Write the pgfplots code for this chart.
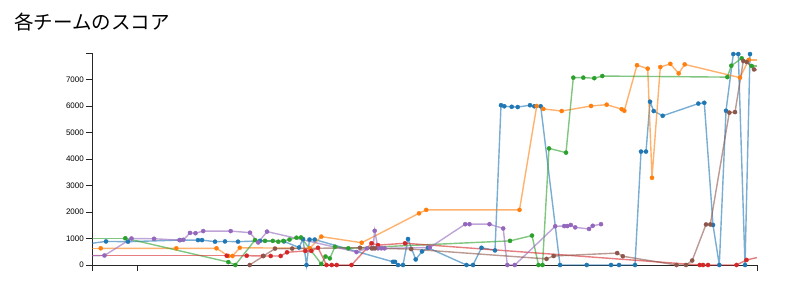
\documentclass[border=0pt]{standalone}
\usepackage{pgfplots}
\pgfplotsset{compat=1.18}
\usepackage{fontspec}
\setmainfont{Liberation Sans}
\newfontfamily\cjk{Noto Sans CJK JP}
\definecolor{cblue}{HTML}{1F77B4}
\definecolor{corange}{HTML}{FF7F0E}
\definecolor{cgreen}{HTML}{2CA02C}
\definecolor{cred}{HTML}{D62728}
\definecolor{cpurple}{HTML}{9467BD}
\definecolor{cbrown}{HTML}{8C564B}
\pgfplotsset{
  ser/.style={color=#1, line width=1.4pt, draw opacity=0.6, mark=*, mark size=2.1pt,
    mark options={solid, draw opacity=1, fill opacity=1, line width=0.3pt, fill=#1, draw=#1}},
  seg/.style={color=#1, line width=1.4pt, draw opacity=0.6, no marks},
}
\begin{document}
\begin{tikzpicture}
\path (0,0) rectangle (800pt,289pt);
\node[anchor=west, inner sep=0pt, font=\cjk\fontsize{19.5}{22}\selectfont] at (14pt,266.5pt) {各チームのスコア};
\begin{axis}[
  at={(92pt,24pt)}, anchor=south west,
  scale only axis, width=665pt, height=212pt,
  xmin=0, xmax=665, ymin=0, ymax=8000,
  clip=false,
  axis x line=bottom, axis y line=left,
  axis line style={-, black!85, line width=0.8pt},
  tick align=outside, major tick length=6pt,
  tick style={black!85, line width=0.8pt},
  xtick={0,45,665}, xticklabels={},
  ytick={0,1000,...,8000},
  yticklabels={0,1000,2000,3000,4000,5000,6000,7000,},
  /pgf/number format/assume math mode=true,
  yticklabel style={font=\fontsize{8}{9}\selectfont, inner sep=0pt, xshift=-2pt},
  scaled y ticks=false,
]
% blue
\addplot[seg=cblue] coordinates {(0,820)(14,890)};
\addplot[ser=cblue] coordinates {(14,890)(36,880)(88,940)(106,940)(110,940)(123,880)(133,890)(146,880)(168,910)(192,890)(207,660)(211,980)(214.5,0)(217.5,960)(222.7,960)(301,120)(303,120)(306,0)(311,0)(316,980)(323.7,210)(330,510)(336,650)(374.5,0)(381,0)(389.5,650)(403,550)(409,6030)(412.3,5990)(419.7,5970)(425.7,5960)(438,6030)(442.3,5990)(448.7,5990)(468,0)(494.7,0)(519,0)(527,0)(543,0)(549,4280)(554,4280)(558,6160)(561.7,5810)(570.7,5630)(606.3,6090)(612.3,6120)(621,1510)(627.3,0)(634,5820)(641.3,7960)(646.3,7960)(653,0)(658,7960)};
% orange
\addplot[seg=corange] coordinates {(0,630)(8.7,630)};
\addplot[seg=corange] coordinates {(656.7,7740)(665,7740)};
\addplot[ser=corange] coordinates {(8.7,630)(84.3,630)(124.5,630)(136.3,340)(140.5,340)(147.8,650)(217.7,630)(229.3,1070)(269.7,840)(327,1950)(334.2,2080)(427.5,2080)(444.7,6000)(451.3,5890)(469.7,5810)(499,6000)(514.7,6050)(529.7,5880)(532.3,5820)(545,7540)(555.7,7410)(560,3290)(568.3,7470)(578.3,7590)(586.7,7230)(592.7,7570)(648,7070)(656.7,7740)};
% green
\addplot[seg=cgreen] coordinates {(0,1010)(33.3,1010)};
\addplot[seg=cgreen] coordinates {(659.7,7510)(665,7510)};
\addplot[ser=cgreen] coordinates {(33.3,1010)(136.3,110)(143.3,0)(163,940)(173,910)(180.8,910)(186.3,880)(191.3,910)(197.5,960)(204.5,1030)(209,1040)(229.3,40)(233.5,320)(237.8,250)(243,690)(256.3,630)(418,910)(440,1110)(446.5,0)(450.5,0)(457,4400)(474,4240)(481.3,7070)(491.3,7070)(502.3,7050)(510.3,7130)(635.3,7090)(639.3,7520)(649.7,7800)(659.7,7510)};
% red
\addplot[seg=cred] coordinates {(0,350)(134.7,350)};
\addplot[seg=cred] coordinates {(654.5,190)(665,280)};
\addplot[ser=cred] coordinates {(134.7,350)(154.7,350)(171,340)(178.7,340)(188.7,340)(195,480)(213.3,530)(219.3,530)(226,650)(234.5,0)(239.7,0)(244.7,0)(259.5,0)(279.5,820)(286,750)(313,820)(607.7,0)(611,0)(616,0)(644.5,0)(654.5,190)};
% purple
\addplot[seg=cpurple] coordinates {(0,350)(12.5,360)};
\addplot[ser=cpurple] coordinates {(12.5,360)(39.5,1000)(62,990)(87.5,940)(91.3,950)(98,1210)(103.5,1200)(111.2,1280)(138.7,1280)(158,1220)(166.2,850)(175,1260)(264.5,490)(275,630)(281,630)(282.7,1290)(286,630)(289.3,630)(292.5,630)(337.8,660)(373.2,1540)(377.5,1540)(397.5,1540)(411.2,1380)(415.3,0)(422.8,0)(463.2,1460)(472.2,1470)(475.3,1470)(478.8,1510)(483.2,1420)(497,1360)(500.7,1480)(509,1540)};
% brown
\addplot[seg=cbrown] coordinates {(662,7380)(665,7360)};
\addplot[ser=cbrown] coordinates {(157.7,0)(171.5,340)(183,620)(200.2,620)(268,650)(279.7,630)(283,630)(319.2,600)(454.5,230)(461.7,340)(525.2,450)(530.8,330)(584.5,0)(594,0)(600.2,170)(614,1530)(618.3,1530)(637.3,5750)(643,5770)(651.3,7700)(654.7,7660)(662,7380)};
\end{axis}
\end{tikzpicture}
\end{document}
